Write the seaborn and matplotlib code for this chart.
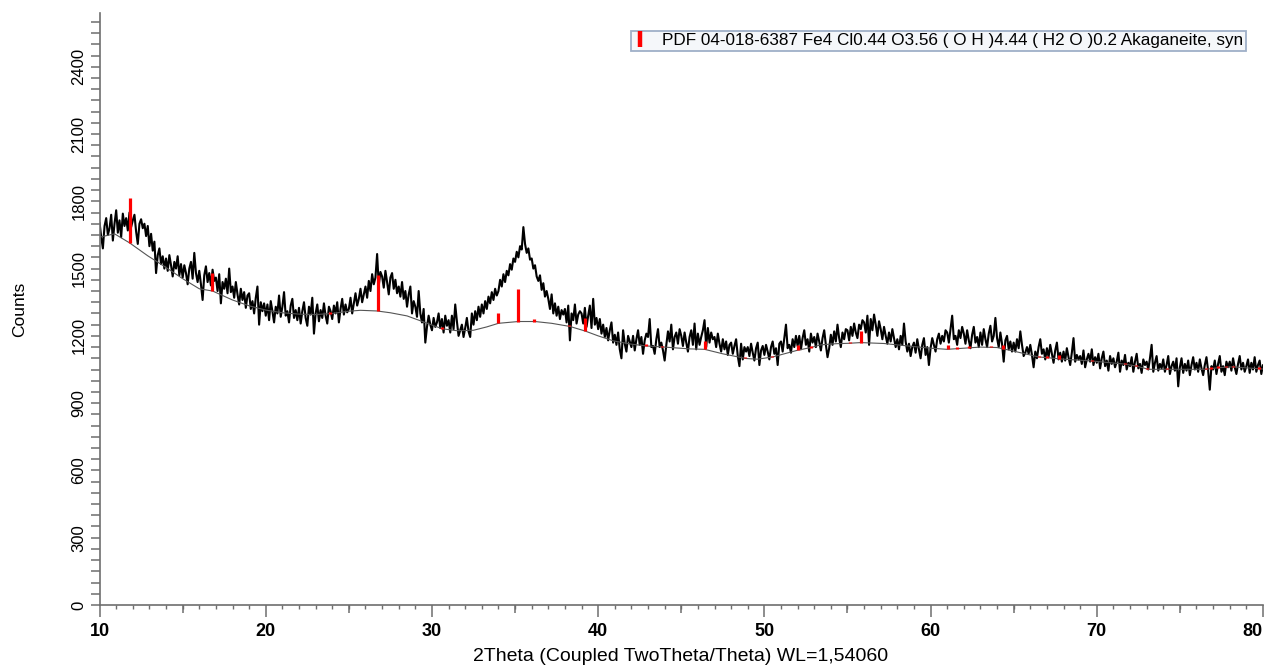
import numpy as np
import matplotlib
matplotlib.use("Agg")
import matplotlib.pyplot as plt
import seaborn as sns
from matplotlib.lines import Line2D
from matplotlib.ticker import MultipleLocator
from matplotlib import font_manager

# ---- measured scan: 2Theta from 10.0 to 80.0 deg, 0.1 deg step ----
scan_start = 10.0
scan_step = 0.1
counts = [
    1705, 1640, 1590, 1690, 1725, 1650, 1680, 1740, 1625, 1700,  # 10
    1760, 1660, 1715, 1640, 1745, 1690, 1725, 1670, 1750, 1685,  # 11
    1715, 1740, 1665, 1610, 1700, 1720, 1680, 1700, 1645, 1690,  # 12
    1600, 1655, 1580, 1620, 1480, 1560, 1590, 1520, 1555, 1500,  # 13
    1545, 1490, 1560, 1515, 1465, 1530, 1500, 1555, 1470, 1520,  # 14
    1460, 1515, 1480, 1430, 1500, 1530, 1455, 1570, 1480, 1440,  # 15
    1490, 1430, 1360, 1470, 1510, 1440, 1480, 1425, 1495, 1445,  # 16
    1460, 1400, 1475, 1345, 1440, 1410, 1455, 1390, 1500, 1395,  # 17
    1420, 1370, 1440, 1385, 1340, 1410, 1360, 1395, 1325, 1380,  # 18
    1390, 1320, 1355, 1300, 1370, 1420, 1250, 1350, 1310, 1345,  # 19
    1290, 1340, 1270, 1355, 1310, 1260, 1330, 1300, 1380, 1285,  # 20
    1330, 1395, 1290, 1310, 1260, 1335, 1365, 1280, 1315, 1270,  # 21
    1325, 1255, 1310, 1350, 1280, 1245, 1330, 1295, 1370, 1210,  # 22
    1300, 1340, 1265, 1315, 1280, 1345, 1290, 1255, 1330, 1310,  # 23
    1275, 1335, 1300, 1350, 1260, 1320, 1365, 1295, 1340, 1305,  # 24
    1320, 1370, 1300, 1345, 1390, 1335, 1365, 1410, 1350, 1385,  # 25
    1420, 1370, 1445, 1400, 1475, 1430, 1460, 1565, 1425, 1485,  # 26
    1465, 1415, 1490, 1440, 1385, 1460, 1480, 1410, 1450, 1390,  # 27
    1420, 1375, 1440, 1365, 1400, 1330, 1385, 1420, 1300, 1355,  # 28
    1330, 1285, 1400, 1300, 1260, 1320, 1170, 1240, 1290, 1250,  # 29
    1225, 1280, 1240, 1260, 1300, 1235, 1275, 1215, 1290, 1245,  # 30
    1270, 1215, 1290, 1230, 1340, 1265, 1200, 1225, 1250, 1195,  # 31
    1235, 1280, 1220, 1195, 1300, 1250, 1310, 1270, 1330, 1285,  # 32
    1340, 1300, 1355, 1320, 1375, 1345, 1395, 1360, 1410, 1380,  # 33
    1400, 1450, 1420, 1475, 1440, 1490, 1470, 1520, 1495, 1545,  # 34
    1530, 1575, 1550, 1600, 1585, 1685, 1610, 1570, 1590, 1540,  # 35
    1545, 1500, 1515, 1465, 1445, 1470, 1405, 1435, 1375, 1400,  # 36
    1365, 1320, 1385, 1300, 1345, 1290, 1330, 1275, 1315, 1295,  # 37
    1320, 1260, 1335, 1180, 1300, 1270, 1340, 1255, 1295, 1310,  # 38
    1300, 1255, 1325, 1240, 1290, 1335, 1235, 1365, 1250, 1280,  # 39
    1230, 1275, 1210, 1250, 1195, 1235, 1180, 1225, 1260, 1170,  # 40
    1205, 1160, 1215, 1140, 1100, 1225, 1165, 1130, 1200, 1175,  # 41
    1150, 1200, 1135, 1185, 1225, 1160, 1195, 1120, 1180, 1210,  # 42
    1195, 1275, 1150, 1155, 1120, 1185, 1230, 1150, 1170, 1135,  # 43
    1090, 1160, 1220, 1175, 1250, 1140, 1195, 1215, 1165, 1230,  # 44
    1200, 1155, 1215, 1170, 1130, 1195, 1225, 1160, 1255, 1140,  # 45
    1210, 1160, 1195, 1225, 1270, 1150, 1235, 1170, 1215, 1185,  # 46
    1195, 1150, 1210, 1165, 1130, 1185, 1140, 1175, 1115, 1160,  # 47
    1170, 1120, 1155, 1185, 1110, 1065, 1165, 1095, 1150, 1130,  # 48
    1150, 1110, 1165, 1125, 1090, 1145, 1170, 1070, 1135, 1155,  # 49
    1115, 1160, 1130, 1095, 1150, 1175, 1120, 1145, 1070, 1165,  # 50
    1175, 1130, 1190, 1250, 1145, 1160, 1125, 1185, 1150, 1200,  # 51
    1155, 1200, 1140, 1190, 1225, 1160, 1185, 1130, 1210, 1170,  # 52
    1195, 1150, 1210, 1175, 1135, 1190, 1225, 1160, 1105, 1145,  # 53
    1205, 1160, 1220, 1175, 1250, 1190, 1150, 1215, 1185, 1230,  # 54
    1225, 1180, 1240, 1200, 1255, 1215, 1190, 1250, 1230, 1270,  # 55
    1260, 1215, 1290, 1160, 1275, 1225, 1295, 1250, 1200, 1265,  # 56
    1230, 1185, 1240, 1200, 1165, 1215, 1175, 1230, 1190, 1150,  # 57
    1185, 1140, 1200, 1160, 1255, 1175, 1130, 1165, 1110, 1150,  # 58
    1170, 1125, 1185, 1140, 1100, 1160, 1190, 1115, 1150, 1070,  # 59
    1145, 1190, 1160, 1130, 1185, 1210, 1165, 1200, 1175, 1225,  # 60
    1215, 1170, 1230, 1290, 1185, 1200, 1160, 1225, 1190, 1240,  # 61
    1210, 1165, 1225, 1180, 1145, 1205, 1240, 1170, 1195, 1150,  # 62
    1215, 1160, 1230, 1185, 1150, 1210, 1245, 1175, 1200, 1280,  # 63
    1190, 1150, 1215, 1165, 1085, 1180, 1200, 1140, 1175, 1130,  # 64
    1170, 1130, 1185, 1145, 1220, 1160, 1110, 1125, 1150, 1120,  # 65
    1160, 1115, 1060, 1130, 1100, 1150, 1185, 1120, 1140, 1095,  # 66
    1145, 1105, 1160, 1120, 1080, 1135, 1170, 1095, 1125, 1085,  # 67
    1130, 1090, 1145, 1105, 1070, 1125, 1190, 1085, 1115, 1095,  # 68
    1110, 1075, 1135, 1060, 1095, 1120, 1085, 1140, 1070, 1105,  # 69
    1080, 1120, 1055, 1100, 1130, 1065, 1090, 1045, 1110, 1075,  # 70
    1100, 1060, 1085, 1125, 1040, 1090, 1070, 1115, 1050, 1080,  # 71
    1065, 1105, 1040, 1085, 1120, 1055, 1075, 1035, 1095, 1070,  # 72
    1085, 1050, 1100, 1160, 1040, 1080, 1110, 1045, 1075, 1055,  # 73
    1095, 1040, 1070, 1110, 1030, 1065, 1085, 1045, 1100, 975,   # 74
    1060, 1100, 1035, 1075, 1045, 1090, 1025, 1070, 1105, 1050,  # 75
    1080, 1040, 1095, 1055, 1025, 1070, 1105, 1045, 960, 1065,   # 76
    1050, 1090, 1030, 1075, 1110, 1040, 1065, 1025, 1085, 1060,  # 77
    1085, 1045, 1100, 1060, 1030, 1075, 1110, 1050, 1080, 1040,  # 78
    1065, 1095, 1035, 1080, 1050, 1105, 1040, 1070, 1090, 1030,  # 79
    1070,                                                        # 80
]

# ---- fitted background ----
bg_two_theta = [10.0, 10.9, 11.8, 12.9, 14.0, 15.0, 16.0, 16.8, 18.0, 19.0,
                20.0, 21.0, 22.0, 23.0, 24.0, 25.0, 25.7, 26.7, 27.5, 28.5,
                29.5, 30.6, 31.5, 32.5, 33.3, 34.0, 35.2, 36.2, 37.2, 38.3,
                39.2, 40.0, 40.9, 42.0, 42.9, 43.8, 45.5, 46.4, 47.5, 48.9,
                49.6, 50.5, 51.3, 52.0, 52.8, 53.4, 54.3, 55.1, 55.8, 57.2,
                58.5, 60.0, 61.0, 62.0, 63.0, 64.0, 65.0, 66.5, 67.0, 67.8,
                69.7, 71.7, 72.4, 73.1, 74.2, 76.6, 77.3, 78.2, 79.8, 80.0]
bg_counts = [1640, 1655, 1615, 1557, 1505, 1455, 1410, 1400, 1360, 1334,
             1315, 1303, 1297, 1295, 1300, 1310, 1314, 1311, 1303, 1289,
             1262, 1232, 1223, 1225, 1240, 1256, 1264, 1264, 1256, 1242,
             1222, 1200, 1178, 1163, 1155, 1151, 1142, 1140, 1120, 1099,
             1096, 1106, 1122, 1136, 1148, 1160, 1165, 1167, 1170, 1166,
             1156, 1145, 1140, 1145, 1150, 1148, 1132, 1106, 1103, 1097,
             1088, 1074, 1065, 1051, 1051, 1051, 1058, 1062, 1053, 1052]

# ---- PDF 04-018-6387 reference lines (height above background) ----
stick_two_theta = [11.81, 16.77, 23.88, 26.73, 30.62, 34.00, 35.16, 36.16, 38.27, 39.19,
                   42.87, 43.83, 46.40, 48.85, 50.46, 52.00, 52.80, 55.14, 55.84, 61.02,
                   61.60, 62.33, 63.65, 64.38, 66.53, 67.03, 67.73, 69.74, 71.70, 72.35,
                   73.05, 74.20, 76.60, 76.87, 77.27, 77.77, 78.17, 79.78]
stick_height = [200, 82, 6, 162, 6, 48, 147, 9, 6, 58,
                10, 6, 38, 6, 6, 22, 6, 6, 52, 18,
                6, 10, 6, 19, 6, 6, 15, 6, 7, 6,
                6, 6, 6, 6, 6, 6, 6, 6]

x_ticks = [10, 20, 30, 40, 50, 60, 70, 80]
y_ticks = [0, 300, 600, 900, 1200, 1500, 1800, 2100, 2400]

legend_label = "PDF 04-018-6387 Fe4 Cl0.44 O3.56 ( O H )4.44 ( H2 O )0.2 Akaganeite, syn"
x_label = "2Theta (Coupled TwoTheta/Theta) WL=1,54060"
y_label = "Counts"

# ---- styling ----
sns.set_theme(style="white")
available = {f.name for f in font_manager.fontManager.ttflist}
narrow = "Liberation Sans Narrow" if "Liberation Sans Narrow" in available else "Liberation Sans"
plt.rcParams["font.family"] = ["Liberation Sans", "DejaVu Sans"]
plt.rcParams["text.color"] = "black"
plt.rcParams["xtick.labelcolor"] = "black"
plt.rcParams["ytick.labelcolor"] = "black"

axis_grey = "#6e6e6e"

two_theta = np.round(scan_start + scan_step * np.arange(len(counts)), 2)

fig = plt.figure(figsize=(12.65, 6.66), dpi=100)
ax = fig.add_axes([0.0787, 0.0916, 0.9197, 0.889])

sns.lineplot(x=two_theta, y=counts, ax=ax, color="black", linewidth=1.5,
             estimator=None, sort=False, zorder=2)
sns.lineplot(x=bg_two_theta, y=bg_counts, ax=ax, color="#555555", linewidth=0.8,
             estimator=None, sort=False, zorder=2.5)

stick_base = np.interp(stick_two_theta, bg_two_theta, bg_counts)
ax.vlines(stick_two_theta, stick_base, stick_base + np.array(stick_height),
          colors="#ff0000", linewidth=2.3, zorder=3)

ax.set_xlim(10, 80)
ax.set_ylim(0, 2640)

for side in ("top", "right"):
    ax.spines[side].set_visible(False)
for side in ("left", "bottom"):
    ax.spines[side].set_color(axis_grey)
    ax.spines[side].set_linewidth(1.2)

# x ticks: labelled every 10, medium every 5, minor every 1
ax.set_xticks(x_ticks, labels=[str(v) for v in x_ticks])
ax.xaxis.set_minor_locator(MultipleLocator(1))
ax.tick_params(axis="x", which="both", bottom=True, top=False)
ax.tick_params(axis="x", which="major", direction="out", length=8.5, width=1.1,
               color=axis_grey, labelcolor="black", pad=4.5, labelsize=13)
ax.tick_params(axis="x", which="minor", direction="out", length=3.2, width=1.0,
               color=axis_grey)
for lab in ax.get_xticklabels():
    lab.set_fontfamily(narrow)
    lab.set_fontweight("bold")
    if lab.get_text() == "80":
        lab.set_horizontalalignment("right")

sec = ax.secondary_xaxis("bottom")
sec.set_xticks(np.arange(15, 80, 10))
sec.tick_params(axis="x", which="major", bottom=True, direction="out", length=5.6,
                width=1.1, color=axis_grey, labelbottom=False)
sec.spines["bottom"].set_visible(False)

# y ticks: labelled every 300, minor every 50
ax.set_yticks(y_ticks, labels=[str(v) for v in y_ticks])
ax.yaxis.set_minor_locator(MultipleLocator(50))
ax.tick_params(axis="y", which="both", left=True, right=False, direction="out",
               length=6.5, width=1.1, color=axis_grey, labelcolor="black",
               pad=3, labelsize=12)
for lab in ax.get_yticklabels():
    lab.set_rotation(90)
    lab.set_verticalalignment("center")
    lab.set_fontfamily(narrow)

ax.set_xlabel(x_label, fontsize=14, fontfamily=narrow, color="black")
ax.xaxis.set_label_coords(0.499, -0.072)
ax.set_ylabel(y_label, fontsize=12.5, color="black")
ax.yaxis.set_label_coords(-0.062, 0.5)

handle = Line2D([0], [0], color="#ff0000", marker="|", linestyle="none",
                markersize=11, markeredgewidth=3.2)
leg = ax.legend([handle], [legend_label], loc="upper right",
                bbox_to_anchor=(0.9855, 0.9700), fontsize=12.3,
                frameon=True, fancybox=False, framealpha=1,
                edgecolor="#9fb0c8", facecolor="#f5f7fa", labelcolor="black",
                handlelength=0.8, handletextpad=0.9, borderpad=0.15,
                borderaxespad=0)
leg.get_frame().set_linewidth(1.3)

fig.savefig("out.png", dpi=100)
